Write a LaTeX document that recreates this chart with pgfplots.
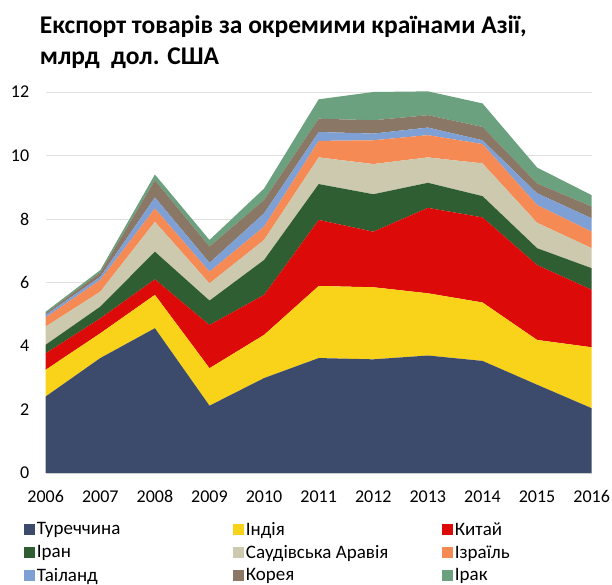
\documentclass[border=0pt]{standalone}
\usepackage{pgfplots}
\pgfplotsset{compat=1.18}
\usepackage{fontspec}
\setmainfont{Carlito}
\definecolor{cTur}{HTML}{3C4A6B}
\definecolor{cInd}{HTML}{F9D31A}
\definecolor{cChn}{HTML}{DD0A0A}
\definecolor{cIrn}{HTML}{2E5E31}
\definecolor{cSau}{HTML}{CCC9AE}
\definecolor{cIsr}{HTML}{F58A55}
\definecolor{cTha}{HTML}{7FA0D4}
\definecolor{cKor}{HTML}{8A7765}
\definecolor{cIrq}{HTML}{6BA17E}
\begin{document}
\begin{tikzpicture}[x=1pt,y=1pt]
\begin{axis}[
  at={(0,0)}, anchor=origin,
  scale only axis, width=546pt, height=381pt,
  xmin=2006, xmax=2016, ymin=0, ymax=12,
  xtick={2006,2007,...,2016}, ytick={0,2,...,12},
  /pgf/number format/1000 sep={},
  /pgf/number format/assume math mode=true,
  ticklabel style={font=\fontsize{18}{18}\selectfont},
  yticklabel style={xshift=-13pt},
  xticklabel style={yshift=-14pt},
  ymajorgrids, grid style={draw=gray!25, line width=0.8pt},
  axis x line*=bottom, axis y line*=left,
  x axis line style={draw=gray!40, line width=0.8pt},
  y axis line style={draw=none},
  tick style={draw=none},
  stack plots=y,
  legend columns=3,
  legend cell align=left,
  legend style={at={(axis description cs:0,0)}, anchor=north west,
    xshift=-25pt, yshift=-45pt, draw=none, fill=none,
    font=\fontsize{19}{19}\selectfont, row sep=4.5pt},
  legend image code/.code={\fill[#1] (0pt,-5.5pt) rectangle (11pt,5.5pt);},
]
\addplot[fill=cTur, draw=none] coordinates {(2006,2.41) (2007,3.62) (2008,4.56) (2009,2.12) (2010,2.99) (2011,3.62) (2012,3.58) (2013,3.70) (2014,3.53) (2015,2.78) (2016,2.04)} \closedcycle;
\addplot[fill=cInd, draw=none] coordinates {(2006,0.84) (2007,0.78) (2008,1.05) (2009,1.18) (2010,1.36) (2011,2.27) (2012,2.27) (2013,1.96) (2014,1.84) (2015,1.41) (2016,1.92)} \closedcycle;
\addplot[fill=cChn, draw=none] coordinates {(2006,0.52) (2007,0.47) (2008,0.49) (2009,1.36) (2010,1.26) (2011,2.08) (2012,1.75) (2013,2.69) (2014,2.68) (2015,2.36) (2016,1.81)} \closedcycle;
\addplot[fill=cIrn, draw=none] coordinates {(2006,0.27) (2007,0.37) (2008,0.87) (2009,0.77) (2010,1.10) (2011,1.13) (2012,1.18) (2013,0.79) (2014,0.67) (2015,0.53) (2016,0.68)} \closedcycle;
\addplot[fill=cSau, draw=none] coordinates {(2006,0.57) (2007,0.47) (2008,0.94) (2009,0.54) (2010,0.63) (2011,0.84) (2012,0.95) (2013,0.80) (2014,1.03) (2015,0.80) (2016,0.63)} \closedcycle;
\addplot[fill=cIsr, draw=none] coordinates {(2006,0.29) (2007,0.37) (2008,0.42) (2009,0.37) (2010,0.42) (2011,0.52) (2012,0.75) (2013,0.70) (2014,0.61) (2015,0.56) (2016,0.52)} \closedcycle;
\addplot[fill=cTha, draw=none] coordinates {(2006,0.08) (2007,0.10) (2008,0.35) (2009,0.28) (2010,0.42) (2011,0.28) (2012,0.21) (2013,0.24) (2014,0.12) (2015,0.37) (2016,0.42)} \closedcycle;
\addplot[fill=cKor, draw=none] coordinates {(2006,0.05) (2007,0.13) (2008,0.54) (2009,0.51) (2010,0.42) (2011,0.42) (2012,0.42) (2013,0.39) (2014,0.42) (2015,0.31) (2016,0.37)} \closedcycle;
\addplot[fill=cIrq, draw=none] coordinates {(2006,0.05) (2007,0.08) (2008,0.18) (2009,0.21) (2010,0.36) (2011,0.61) (2012,0.89) (2013,0.75) (2014,0.74) (2015,0.50) (2016,0.36)} \closedcycle;
\addlegendentry{\makebox[194pt][l]{Туреччина}}
\addlegendentry{\makebox[194pt][l]{Індія}}
\addlegendentry{Китай}
\addlegendentry{Іран}
\addlegendentry{Саудівська Аравія}
\addlegendentry{Ізраїль}
\addlegendentry{Таіланд}
\addlegendentry{Корея}
\addlegendentry{Ірак}
\end{axis}
\node[anchor=base west, inner sep=0pt, font=\bfseries\fontsize{25.5}{30}\selectfont] at (-6,439.7) {Експорт товарів за окремими країнами Азії,};
\node[anchor=base west, inner sep=0pt, font=\bfseries\fontsize{25.5}{30}\selectfont] at (-6,408) {млрд\ \ дол. США};
\pgfresetboundingbox
\path[use as bounding box] (-45.7,-112) rectangle (566.3,473);
\end{tikzpicture}
\end{document}
